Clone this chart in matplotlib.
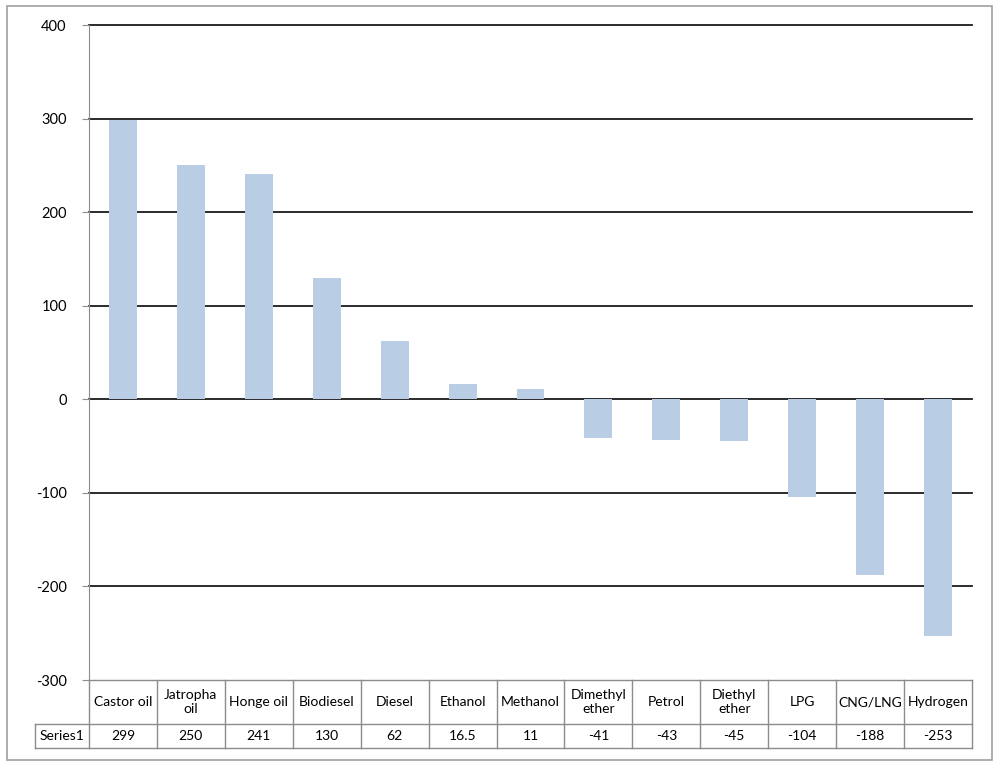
import matplotlib.pyplot as plt
from matplotlib.patches import Rectangle
from matplotlib.transforms import blended_transform_factory

# data
fuels = ['Castor oil', 'Jatropha\noil', 'Honge oil', 'Biodiesel', 'Diesel', 'Ethanol',
         'Methanol', 'Dimethyl\nether', 'Petrol', 'Diethyl\nether', 'LPG', 'CNG/LNG', 'Hydrogen']
values = [299, 250, 241, 130, 62, 16.5, 11, -41, -43, -45, -104, -188, -253]
value_labels = ['299', '250', '241', '130', '62', '16.5', '11', '-41', '-43', '-45', '-104', '-188', '-253']
series_name = 'Series1'
yticks = [-300, -200, -100, 0, 100, 200, 300, 400]

plt.rcParams['font.family'] = ['Lato', 'DejaVu Sans']
grey = '#8c8c8c'

fig = plt.figure(figsize=(10, 7.67), dpi=100)
# outer chart border
fig.patches.append(Rectangle((0.007, 0.009), 0.985, 0.983, transform=fig.transFigure,
                             fill=False, edgecolor='#a0a0a0', linewidth=1.2))

ax = fig.add_axes([0.089, 0.1134, 0.883, 0.854])
x = list(range(len(fuels)))
ax.bar(x, values, width=0.41, color='#b9cde5', zorder=2)
ax.set_xlim(-0.5, len(fuels) - 0.5)
ax.set_ylim(-300, 400)
ax.set_yticks(yticks)
ax.set_yticklabels([str(v) for v in yticks], fontsize=10.5)
for v in yticks[1:]:
    ax.axhline(v, color='#1a1a1a', linewidth=1.3, zorder=1, clip_on=False)
ax.set_xticks([])
for s in ['top', 'right', 'bottom']:
    ax.spines[s].set_visible(False)
ax.spines['left'].set_color(grey)
ax.tick_params(axis='y', length=5, color=grey, pad=11)

# data table below the plot
tr = blended_transform_factory(ax.transData, ax.transAxes)
h1 = 44 / 655
h2 = 24 / 655
top, mid, bot = 0, -h1, -h1 - h2
lw = 1.0
ax.plot([-0.5, len(fuels) - 0.5], [top, top], transform=tr, color=grey, lw=lw, clip_on=False)
left_x = -0.5 - 54 / 68
ax.plot([left_x, len(fuels) - 0.5], [mid, mid], transform=tr, color=grey, lw=lw, clip_on=False)
ax.plot([left_x, len(fuels) - 0.5], [bot, bot], transform=tr, color=grey, lw=lw, clip_on=False)
ax.plot([left_x, left_x], [mid, bot], transform=tr, color=grey, lw=lw, clip_on=False)
for i in range(len(fuels) + 1):
    ax.plot([i - 0.5, i - 0.5], [top, bot], transform=tr, color=grey, lw=lw, clip_on=False)
for i, (name, lab) in enumerate(zip(fuels, value_labels)):
    ax.text(i, (top + mid) / 2, name, transform=tr, ha='center', va='center',
            fontsize=10, linespacing=1.25, clip_on=False)
    ax.text(i, (mid + bot) / 2, lab, transform=tr, ha='center', va='center',
            fontsize=10, clip_on=False)
ax.text((left_x - 0.5) / 2, (mid + bot) / 2, series_name, transform=tr, ha='center',
        va='center', fontsize=10, clip_on=False)

fig.savefig('out.png', dpi=100)
